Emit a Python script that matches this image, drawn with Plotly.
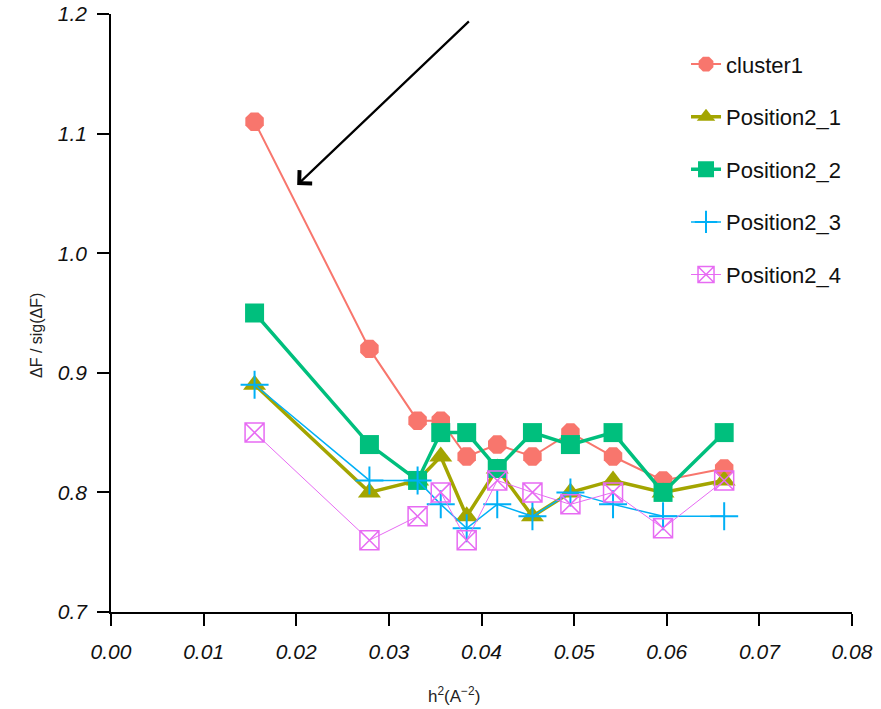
import plotly.graph_objects as go

# ---- data ----
h2 = [0.0155, 0.0279, 0.0331, 0.0356, 0.0384, 0.0417, 0.0455, 0.0496, 0.0542, 0.0596, 0.0662]
cluster1 = [1.11, 0.92, 0.86, 0.86, 0.83, 0.84, 0.83, 0.85, 0.83, 0.81, 0.82]
position2_1 = [0.89, 0.80, 0.81, 0.83, 0.78, 0.82, 0.78, 0.80, 0.81, 0.80, 0.81]
position2_2 = [0.95, 0.84, 0.81, 0.85, 0.85, 0.82, 0.85, 0.84, 0.85, 0.80, 0.85]
position2_3 = [0.89, 0.81, 0.81, 0.79, 0.77, 0.79, 0.78, 0.80, 0.79, 0.78, 0.78]
position2_4 = [0.85, 0.76, 0.78, 0.80, 0.76, 0.81, 0.80, 0.79, 0.80, 0.77, 0.81]
series_names = ["cluster1", "Position2_1", "Position2_2", "Position2_3", "Position2_4"]
x_ticks = [0.00, 0.01, 0.02, 0.03, 0.04, 0.05, 0.06, 0.07, 0.08]
y_ticks = [0.7, 0.8, 0.9, 1.0, 1.1, 1.2]

series_values = [cluster1, position2_1, position2_2, position2_3, position2_4]
styles = [
    dict(color="#F8766D", symbol="octagon", size=20, lw=2, mlw=0),
    dict(color="#A3A500", symbol="triangle-up", size=20, lw=3.5, mlw=0),
    dict(color="#00BF7D", symbol="square", size=19, lw=3.5, mlw=0),
    dict(color="#00B0F6", symbol="cross-thin", size=20, lw=1.5, mlw=2),
    dict(color="#E76BF3", symbol="square-x-open", size=19, lw=1, mlw=1.5),
]

fig = go.Figure()
for name, vals, st in zip(series_names, series_values, styles):
    fig.add_trace(go.Scatter(
        x=h2, y=vals, name=name, mode="lines+markers", legendgroup=name,
        line=dict(color=st["color"], width=st["lw"]),
        marker=dict(symbol=st["symbol"], size=st["size"], color=st["color"],
                    line=dict(color=st["color"], width=st["mlw"])),
        cliponaxis=False,
    ))

tick_font = dict(family="Liberation Sans, Arial", size=21, color="#111111", style="italic")

fig.update_layout(
    width=881, height=709,
    margin=dict(l=111, r=29, t=14, b=97, autoexpand=False),
    paper_bgcolor="white", plot_bgcolor="white",
    showlegend=True,
    legend=dict(x=0.776, y=0.951, xanchor="left", yanchor="top",
                font=dict(family="Liberation Sans, Arial", size=22, color="#111111"),
                tracegroupgap=21, bgcolor="rgba(0,0,0,0)"),
    xaxis=dict(range=[0, 0.08], tickvals=x_ticks, tickformat=".2f",
               showline=True, linecolor="black", linewidth=1.5,
               ticks="outside", ticklen=12, tickwidth=1.5, tickcolor="black",
               showgrid=False, zeroline=False, tickfont=tick_font,
               ticklabelstandoff=8, automargin=False),
    yaxis=dict(range=[0.7, 1.2], tickvals=y_ticks, tickformat=".1f",
               showline=True, linecolor="black", linewidth=1.5,
               ticks="outside", ticklen=12, tickwidth=1.5, tickcolor="black",
               showgrid=False, zeroline=False, tickfont=tick_font,
               ticklabelstandoff=6, automargin=False),
)

# axis titles as annotations (positioned like the reference)
fig.add_annotation(text="h<sup>2</sup>(A<sup>−2</sup>)", xref="paper", yref="paper",
                   x=(454 - 111) / 741, y=-(695 - 612) / 598, showarrow=False,
                   font=dict(family="Liberation Sans, Arial", size=17, color="#222222"),
                   xanchor="center", yanchor="middle")
fig.add_annotation(text="ΔF / sig(ΔF)", xref="paper", yref="paper",
                   x=-(111 - 36) / 741, y=(612 - 336) / 598, showarrow=False, textangle=-90,
                   font=dict(family="Liberation Sans, Arial", size=16, color="#222222"),
                   xanchor="center", yanchor="middle")

# arrow
fig.add_annotation(x=0.0201, y=1.057, ax=0.0388, ay=1.195, xref="x", yref="y",
                   axref="x", ayref="y", text="", showarrow=True,
                   arrowhead=4, arrowsize=1.6, arrowwidth=2.2, arrowcolor="black",
                   standoff=0, startstandoff=0)

fig.write_html("out.html")
